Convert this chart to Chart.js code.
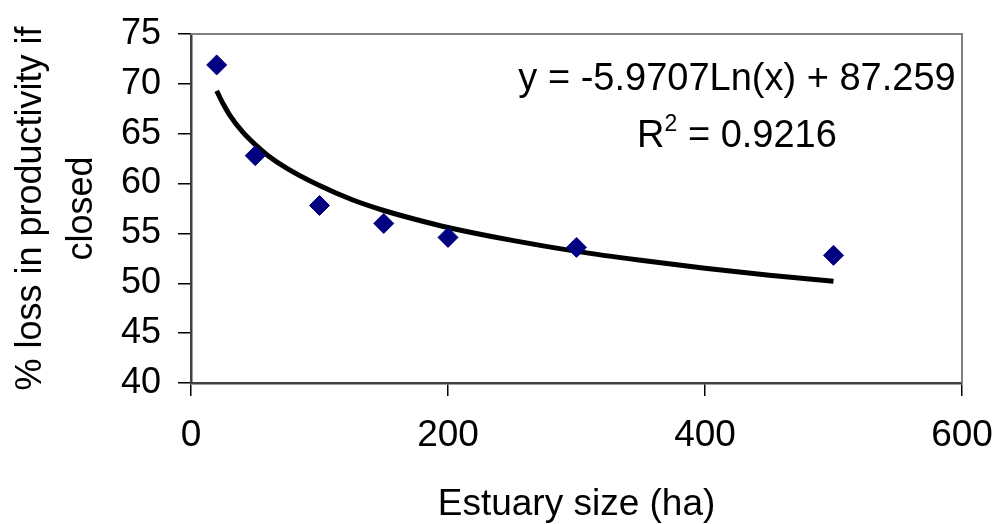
<!DOCTYPE html>
<html>
<head>
<meta charset="utf-8">
<script src="https://cdn.jsdelivr.net/npm/chart.js@4/dist/chart.umd.min.js"></script>
<style>
  html, body { margin: 0; padding: 0; background: #fff; }
  #wrap { width: 994px; height: 524px; }
</style>
</head>
<body>
<div id="wrap"><canvas id="lossChart"></canvas></div>
<script>
// observed points
const estuarySize = [20, 50, 100, 150, 200, 300, 500];
const lossPct = [71.9, 62.8, 57.8, 56.0, 54.6, 53.6, 52.8];

// trendline
const trendX = [20, 25, 30, 40, 50, 60, 75, 100, 125, 150, 175, 200, 250, 300, 350, 400, 450, 500];
const trendY = [69.3, 68.0, 66.9, 65.2, 63.9, 62.8, 61.5, 59.8, 58.4, 57.3, 56.4, 55.6, 54.3, 53.2, 52.3, 51.5, 50.8, 50.2];

const xTicks = [0, 200, 400, 600];
const yTicks = [40, 45, 50, 55, 60, 65, 70, 75];

const eqLine = 'y = -5.9707Ln(x) + 87.259';
const r2Value = ' = 0.9216';

const FONT = '"Liberation Sans", Arial, sans-serif';

const plotFrame = {
  id: 'plotFrame',
  beforeDatasetsDraw(chart) {
    const { ctx, chartArea: a } = chart;
    ctx.save();
    ctx.strokeStyle = '#808080';
    ctx.lineWidth = 2;
    ctx.beginPath();
    ctx.moveTo(a.left, a.top);
    ctx.lineTo(a.right, a.top);
    ctx.lineTo(a.right, a.bottom);
    ctx.stroke();
    ctx.restore();
  }
};

const equationLabel = {
  id: 'equationLabel',
  afterDraw(chart) {
    const { ctx } = chart;
    const cx = 737;
    ctx.save();
    ctx.fillStyle = '#000';
    ctx.textBaseline = 'alphabetic';
    ctx.font = '38px ' + FONT;
    ctx.textAlign = 'center';
    ctx.fillText(eqLine, cx, 90);

    // R² line
    ctx.textAlign = 'left';
    const wR = ctx.measureText('R').width;
    const wRest = ctx.measureText(r2Value).width;
    ctx.font = '23px ' + FONT;
    const wSup = ctx.measureText('2').width;
    let x = cx - (wR + wSup + wRest) / 2;
    ctx.font = '38px ' + FONT;
    ctx.fillText('R', x, 147);
    x += wR;
    ctx.font = '23px ' + FONT;
    ctx.fillText('2', x, 131);
    x += wSup;
    ctx.font = '38px ' + FONT;
    ctx.fillText(r2Value, x, 147);
    ctx.restore();
  }
};

const ctx = document.getElementById('lossChart').getContext('2d');
new Chart(ctx, {
  type: 'scatter',
  data: {
    datasets: [
      {
        label: 'Trend',
        data: trendX.map((x, i) => ({ x, y: trendY[i] })),
        showLine: true,
        borderColor: '#000',
        borderWidth: 5,
        pointRadius: 0,
        cubicInterpolationMode: 'monotone',
        order: 2
      },
      {
        label: 'Loss',
        data: estuarySize.map((x, i) => ({ x, y: lossPct[i] })),
        pointStyle: 'rectRot',
        pointRadius: 10,
        backgroundColor: '#000080',
        borderColor: '#000080',
        borderWidth: 1,
        order: 1
      }
    ]
  },
  options: {
    responsive: true,
    maintainAspectRatio: false,
    animation: false,
    layout: { padding: { left: 0, right: 32, top: 34, bottom: 0 } },
    plugins: {
      legend: { display: false },
      tooltip: { enabled: false }
    },
    scales: {
      x: {
        type: 'linear',
        min: 0,
        max: 600,
        afterBuildTicks: (s) => { s.ticks = xTicks.map((v) => ({ value: v })); },
        afterFit: (s) => { s.height = 141; s.paddingLeft = 0; s.paddingRight = 0; },
        grid: { drawOnChartArea: false, tickLength: 13, color: '#000', lineWidth: 1.5 },
        border: { color: '#404040', width: 2.5 },
        ticks: { color: '#000', padding: 18, font: { family: FONT, size: 37 } },
        title: {
          display: true,
          text: 'Estuary size (ha)',
          color: '#000',
          font: { family: FONT, size: 37, lineHeight: 1 },
          padding: { top: 0, bottom: 1 }
        }
      },
      y: {
        min: 40,
        max: 75,
        afterBuildTicks: (s) => { s.ticks = yTicks.map((v) => ({ value: v })); },
        afterFit: (s) => { s.width = 191; s.paddingTop = 0; s.paddingBottom = 0; },
        grid: { drawOnChartArea: false, tickLength: 13, color: '#000', lineWidth: 1.5 },
        border: { color: '#404040', width: 2.5 },
        ticks: { color: '#000', padding: 17, font: { family: FONT, size: 36 } },
        title: {
          display: true,
          text: ['% loss in productivity if', 'closed'],
          color: '#000',
          font: { family: FONT, size: 36, lineHeight: 1.4 },
          padding: { top: 6, bottom: 0 }
        }
      }
    }
  },
  plugins: [plotFrame, equationLabel]
});
</script>
</body>
</html>
